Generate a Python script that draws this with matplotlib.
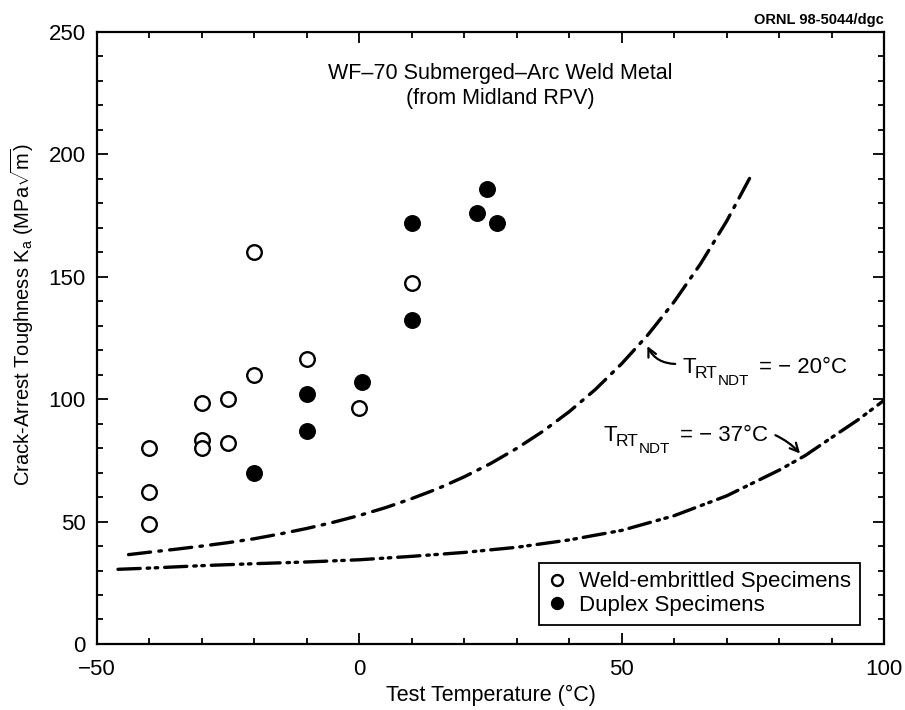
import numpy as np
import matplotlib
matplotlib.use('Agg')
import matplotlib.pyplot as plt

plt.rcParams['font.family'] = ['Liberation Sans', 'DejaVu Sans']
plt.rcParams['mathtext.fontset'] = 'custom'
plt.rcParams['mathtext.rm'] = 'Liberation Sans'
plt.rcParams['mathtext.it'] = 'Liberation Sans'
plt.rcParams['mathtext.default'] = 'rm'
plt.rcParams['lines.scale_dashes'] = False

# weld-embrittled specimens (open circles)
weld_t = [-40, -40, -40, -30, -30, -30, -25, -25, -20, -20, -10, 0, 10]
weld_k = [80, 62, 49, 83.5, 80, 98.5, 82, 100, 110, 160, 116.5, 96.5, 147.5]

# duplex specimens (filled circles)
dup_t = [-20, -10, -10, 0.5, 10, 10, 22.5, 24.4, 26.3]
dup_k = [70, 102, 87, 107, 172, 132.5, 176, 186, 172]

# reference curve, RT_NDT = -20 C
c20_t = [-44, -40, -35, -30, -25, -20, -15, -10, -5, 0, 5, 10, 15, 20, 25, 30,
         35, 40, 45, 50, 55, 60, 65, 70, 75]
c20_k = [36.5, 37.5, 38.7, 40, 41.4, 43, 45, 47.2, 49.7, 52.5, 55.7, 59.4, 63.5,
         68.3, 73.7, 79.9, 86.9, 94.9, 104, 114.5, 126.3, 139.8, 155.2, 172.7, 192.7]

# reference curve, RT_NDT = -37 C
c37_t = [-46, -40, -30, -20, -10, 0, 10, 20, 30, 40, 50, 60, 70, 80, 85, 90, 95, 100]
c37_k = [30.5, 31, 32, 32.8, 33.5, 34.4, 35.8, 37.4, 39.5, 42.5, 46.4, 52.4,
         60.5, 71, 77, 84.3, 91.5, 99.5]

# curve labels: (T, RT, NDT, rest), anchor, arrow start, arrow tip
lab_txt = [('T', 'RT', 'NDT', '= − 20°C'), ('T', 'RT', 'NDT', '= − 37°C')]
lab_pos = [(61.6, 110.7), (46.5, 83.1)]
arr_from = [(60.2, 114.4), (79.3, 85.3)]
arr_to = [(54.9, 121.7), (84.0, 77.8)]
arr_rad = [-0.3, -0.1]

fig = plt.figure(figsize=(9.05, 7.10), dpi=100)
ax = fig.add_axes([0.1072, 0.0930, 0.8696, 0.8619])

ax.plot(c20_t, c20_k, color='black', lw=2.4, dashes=(16, 6, 1.8, 6),
        solid_capstyle='round', dash_capstyle='round')
ax.plot(c37_t, c37_k, color='black', lw=2.4, dashes=(16, 5, 1.8, 4, 1.8, 5),
        solid_capstyle='round', dash_capstyle='round')

ax.plot(weld_t, weld_k, 'o', ms=10.5, mfc='white', mec='black', mew=1.7,
        label='Weld-embrittled Specimens')
ax.plot(dup_t, dup_k, 'o', ms=10.5, mfc='black', mec='black', mew=1.7,
        label='Duplex Specimens')

ax.set_xlim(-50, 100)
ax.set_ylim(0, 250)
ax.set_xticks([-50, 0, 50, 100])
ax.set_xticks(np.arange(-50, 101, 10), minor=True)
ax.set_yticks(np.arange(0, 251, 50))
ax.set_yticks(np.arange(0, 251, 10), minor=True)
ax.tick_params(which='both', direction='in', top=True, right=True,
               labelsize=16, width=1.3)
ax.tick_params(axis='x', which='both', pad=11)
ax.tick_params(axis='y', which='both', pad=8)
ax.tick_params(which='major', length=8)
ax.tick_params(which='minor', length=4.5)
for s in ax.spines.values():
    s.set_linewidth(1.6)

ax.set_xlabel('Test Temperature (°C)', fontsize=15.5, labelpad=3)
ax.set_ylabel(r'Crack-Arrest Toughness K$_\mathregular{a}$ (MPa$\sqrt{\mathregular{m}}$)',
              fontsize=14.5)
ax.yaxis.set_label_coords(-0.077, 0.539)

ax.text(0.512, 0.95, 'WF–70 Submerged–Arc Weld Metal\n(from Midland RPV)',
        transform=ax.transAxes, ha='center', va='top', fontsize=15.5,
        linespacing=1.3)

fig.text(0.977, 0.972, 'ORNL 98-5044/dgc', ha='right', va='center',
         fontsize=10.5, fontweight='bold')

# T_RT_NDT labels built from pieces so the subscripts stay large
offs = [(0, 0), (8.6, -3.6), (25.5, -8.6), (55, 0)]
sizes = [16, 12.5, 11, 16]
for parts, pos, a0, a1, rad in zip(lab_txt, lab_pos, arr_from, arr_to, arr_rad):
    for s, off, fs in zip(parts, offs, sizes):
        ax.annotate(s, xy=pos, xytext=off, textcoords='offset points',
                    fontsize=fs, ha='left', va='baseline')
    ax.annotate('', xy=a1, xytext=a0,
                arrowprops=dict(arrowstyle='->,head_length=0.6,head_width=0.3',
                                color='black', lw=1.6,
                                connectionstyle='arc3,rad=%s' % rad,
                                shrinkA=0, shrinkB=0))

leg = ax.legend(loc='lower right', bbox_to_anchor=(0.9695, 0.031),
                fontsize=16, frameon=True, fancybox=False, edgecolor='black',
                framealpha=1, markerscale=0.75, handlelength=0.8,
                handletextpad=0.6, borderpad=0.4, labelspacing=0.12,
                borderaxespad=0)
leg.get_frame().set_linewidth(1.3)

fig.savefig('out.png', dpi=100)
